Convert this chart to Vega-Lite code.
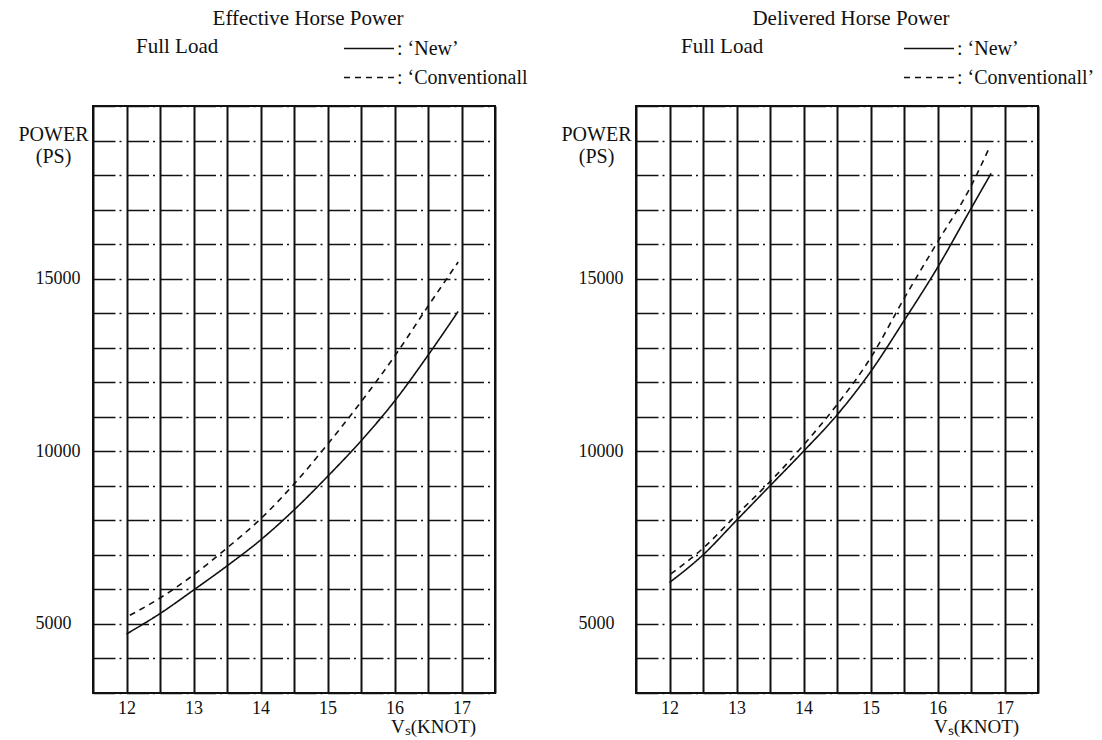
{
  "$schema": "https://vega.github.io/schema/vega-lite/v6.json",
  "background": "white",
  "padding": {"left": 17, "top": 7, "right": 2, "bottom": 2},
  "config": {
    "font": "Liberation Serif",
    "view": {"stroke": "#111", "strokeWidth": 2},
    "axis": {
      "labelFont": "Liberation Serif",
      "titleFont": "Liberation Serif",
      "labelColor": "#111",
      "titleColor": "#111",
      "titleFontWeight": "normal",
      "domain": false,
      "ticks": false,
      "tickSize": 0,
      "labelFontSize": 18,
      "titleFontSize": 20,
      "labelOverlap": false,
      "labelFlush": false,
      "gridColor": "#111",
      "gridOpacity": 1
    },
    "legend": {
      "labelFont": "Liberation Serif",
      "titleFont": "Liberation Serif",
      "labelColor": "#111",
      "titleColor": "#111",
      "titleFontWeight": "normal",
      "labelFontSize": 20,
      "titleFontSize": 21,
      "padding": 0
    },
    "title": {"font": "Liberation Serif", "fontWeight": "normal", "color": "#111", "fontSize": 21}
  },
  "datasets": {
    "ehp": [
      {"series": "New", "speed": 12.0, "power": 4710},
      {"series": "New", "speed": 12.5, "power": 5300},
      {"series": "New", "speed": 13.0, "power": 5980},
      {"series": "New", "speed": 13.5, "power": 6680},
      {"series": "New", "speed": 14.0, "power": 7430},
      {"series": "New", "speed": 14.5, "power": 8300},
      {"series": "New", "speed": 15.0, "power": 9270},
      {"series": "New", "speed": 15.5, "power": 10300},
      {"series": "New", "speed": 16.0, "power": 11450},
      {"series": "New", "speed": 16.5, "power": 12780},
      {"series": "New", "speed": 16.95, "power": 14050},
      {"series": "Conventionall", "speed": 12.05, "power": 5250},
      {"series": "Conventionall", "speed": 12.5, "power": 5750},
      {"series": "Conventionall", "speed": 13.0, "power": 6420},
      {"series": "Conventionall", "speed": 13.5, "power": 7200},
      {"series": "Conventionall", "speed": 14.0, "power": 8040},
      {"series": "Conventionall", "speed": 14.5, "power": 9050},
      {"series": "Conventionall", "speed": 15.0, "power": 10200},
      {"series": "Conventionall", "speed": 15.5, "power": 11430},
      {"series": "Conventionall", "speed": 16.0, "power": 12750},
      {"series": "Conventionall", "speed": 16.5, "power": 14200},
      {"series": "Conventionall", "speed": 16.95, "power": 15480}
    ],
    "dhp": [
      {"series": "New", "speed": 12.0, "power": 6200},
      {"series": "New", "speed": 12.5, "power": 7000},
      {"series": "New", "speed": 13.0, "power": 8000},
      {"series": "New", "speed": 13.5, "power": 9000},
      {"series": "New", "speed": 14.0, "power": 10000},
      {"series": "New", "speed": 14.5, "power": 11050},
      {"series": "New", "speed": 15.0, "power": 12300},
      {"series": "New", "speed": 15.5, "power": 13780},
      {"series": "New", "speed": 16.0, "power": 15320},
      {"series": "New", "speed": 16.5, "power": 17030},
      {"series": "New", "speed": 16.8, "power": 18050},
      {"series": "Conventionall", "speed": 12.02, "power": 6450},
      {"series": "Conventionall", "speed": 12.5, "power": 7190},
      {"series": "Conventionall", "speed": 13.0, "power": 8160},
      {"series": "Conventionall", "speed": 13.5, "power": 9120},
      {"series": "Conventionall", "speed": 14.0, "power": 10180},
      {"series": "Conventionall", "speed": 14.5, "power": 11350},
      {"series": "Conventionall", "speed": 15.0, "power": 12700},
      {"series": "Conventionall", "speed": 15.5, "power": 14420},
      {"series": "Conventionall", "speed": 16.0, "power": 16060},
      {"series": "Conventionall", "speed": 16.5, "power": 17680},
      {"series": "Conventionall", "speed": 16.77, "power": 18780}
    ]
  },
  "spacing": 141,
  "bounds": "flush",
  "resolve": {"legend": {"strokeDash": "independent"}},
  "hconcat": [
    {
      "width": 402,
      "height": 587,
      "title": {"text": "Effective Horse Power", "frame": "group", "anchor": "middle", "dx": 14, "offset": -10, "baseline": "alphabetic"},
      "data": {"name": "ehp"},
      "mark": {"type": "line", "color": "#111", "strokeWidth": 1.6, "interpolate": "monotone"},
      "encoding": {
        "x": {
          "field": "speed", "type": "quantitative",
          "scale": {"domain": [11.5, 17.5], "nice": false, "zero": false},
          "axis": {
            "title": "Vₛ(KNOT)", "titleX": 340, "titleY": 33, "titleAlign": "center", "titleBaseline": "middle", "titleFontSize": 19,
            "values": [11.5, 12, 12.5, 13, 13.5, 14, 14.5, 15, 15.5, 16, 16.5, 17, 17.5],
            "labelExpr": "datum.value % 1 == 0 ? format(datum.value, 'd') : ''",
            "labelPadding": 6, "grid": true, "gridWidth": 2
          }
        },
        "y": {
          "field": "power", "type": "quantitative",
          "scale": {"domain": [3000, 20000], "nice": false, "zero": false},
          "axis": {
            "title": ["POWER", "(PS)"], "titleAngle": 0, "titleAlign": "center", "titleBaseline": "middle",
            "titleX": -40, "titleY": 28, "titleLineHeight": 22,
            "values": [3000, 4000, 5000, 6000, 7000, 8000, 9000, 10000, 11000, 12000, 13000, 14000, 15000, 16000, 17000, 18000, 19000, 20000],
            "labelExpr": "datum.value == 5000 || datum.value == 10000 || datum.value == 15000 ? format(datum.value, 'd') : ''",
            "labelAlign": "left", "labelBaseline": "middle", "labelPadding": 58,
            "grid": true, "gridWidth": 1.5, "gridDash": [22, 4, 2, 5.5]
          }
        },
        "strokeDash": {
          "field": "series", "type": "nominal",
          "scale": {"domain": ["New", "Conventionall"], "range": [[1, 0], [6, 5]]},
          "legend": {
            "title": "Full Load", "titleOrient": "left", "titleAnchor": "start", "titleBaseline": "top", "titlePadding": 124,
            "orient": "none", "legendX": 43, "legendY": -70, "direction": "vertical",
            "symbolType": "stroke", "symbolSize": 2500, "symbolStrokeWidth": 1.5, "symbolStrokeColor": "#111",
            "labelOffset": 2, "labelLimit": 400, "clipHeight": 25, "rowPadding": 4,
            "labelExpr": "': ‘' + datum.label + (datum.label == 'New' ? '’' : '')"
          }
        }
      }
    },
    {
      "width": 402,
      "height": 587,
      "title": {"text": "Delivered Horse Power", "frame": "group", "anchor": "middle", "dx": 14, "offset": -10, "baseline": "alphabetic"},
      "data": {"name": "dhp"},
      "mark": {"type": "line", "color": "#111", "strokeWidth": 1.6, "interpolate": "monotone"},
      "encoding": {
        "x": {
          "field": "speed", "type": "quantitative",
          "scale": {"domain": [11.5, 17.5], "nice": false, "zero": false},
          "axis": {
            "title": "Vₛ(KNOT)", "titleX": 340, "titleY": 33, "titleAlign": "center", "titleBaseline": "middle", "titleFontSize": 19,
            "values": [11.5, 12, 12.5, 13, 13.5, 14, 14.5, 15, 15.5, 16, 16.5, 17, 17.5],
            "labelExpr": "datum.value % 1 == 0 ? format(datum.value, 'd') : ''",
            "labelPadding": 6, "grid": true, "gridWidth": 2
          }
        },
        "y": {
          "field": "power", "type": "quantitative",
          "scale": {"domain": [3000, 20000], "nice": false, "zero": false},
          "axis": {
            "title": ["POWER", "(PS)"], "titleAngle": 0, "titleAlign": "center", "titleBaseline": "middle",
            "titleX": -40, "titleY": 28, "titleLineHeight": 22,
            "values": [3000, 4000, 5000, 6000, 7000, 8000, 9000, 10000, 11000, 12000, 13000, 14000, 15000, 16000, 17000, 18000, 19000, 20000],
            "labelExpr": "datum.value == 5000 || datum.value == 10000 || datum.value == 15000 ? format(datum.value, 'd') : ''",
            "labelAlign": "left", "labelBaseline": "middle", "labelPadding": 58,
            "grid": true, "gridWidth": 1.5, "gridDash": [22, 4, 2, 5.5]
          }
        },
        "strokeDash": {
          "field": "series", "type": "nominal",
          "scale": {"domain": ["New", "Conventionall"], "range": [[1, 0], [6, 5]]},
          "legend": {
            "title": "Full Load", "titleOrient": "left", "titleAnchor": "start", "titleBaseline": "top", "titlePadding": 139,
            "orient": "none", "legendX": 45, "legendY": -70, "direction": "vertical",
            "symbolType": "stroke", "symbolSize": 2500, "symbolStrokeWidth": 1.5, "symbolStrokeColor": "#111",
            "labelOffset": 2, "labelLimit": 400, "clipHeight": 25, "rowPadding": 4,
            "labelExpr": "': ‘' + datum.label + '’'"
          }
        }
      }
    }
  ]
}
